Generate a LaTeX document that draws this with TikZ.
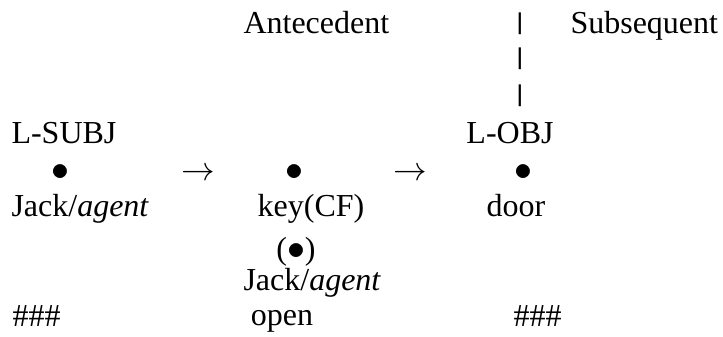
\documentclass[tikz,12pt,border=0pt]{standalone}
\usepackage{fontspec}
\setmainfont{Liberation Serif}

\tikzset{
  lefttext/.style={anchor=base west, inner sep=0pt},
  midtext/.style={anchor=base, inner sep=0pt}
}
\newcommand{\bigdot}{\scalebox{1.12}{$\bullet$}}
\newcommand{\bigarrow}{\scalebox{1.05}{$\rightarrow$}}
\newcommand{\barmark}{\scalebox{1}[0.75]{\textbf{|}}}

\begin{document}
\begin{tikzpicture}[x=0.375pt,y=-0.375pt]
		\useasboundingbox (0,0) rectangle (723,336);

		% Kopfzeile
		\node[lefttext] (ante) at (243,33) {Antecedent};
		\node[lefttext] (subs) at (570,33) {Subsequent};
		\node[midtext] (bara) at (520,29) {\barmark};
		\node[midtext] (barb) at (520,64) {\barmark};
		\node[midtext] (barc) at (520,101) {\barmark};

		% Rollen
		\node[lefttext] (lsubj) at (11,143) {L-SUBJ};
		\node[midtext] (lobj) at (510,143) {L-OBJ};

		% Punkte und Pfeile
		\node[midtext] (dota) at (60,180) {\bigdot};
		\node[midtext] (arra) at (198,180) {\bigarrow};
		\node[midtext] (dotb) at (294,180) {\bigdot};
		\node[midtext] (arrb) at (410,180) {\bigarrow};
		\node[midtext] (dotc) at (523,180) {\bigdot};

		% Beschriftungen
		\node[lefttext] (jacka) at (11,216) {Jack/\textit{agent}};
		\node[midtext] (key) at (311,216) {key(CF)};
		\node[midtext] (door) at (516,216) {door};
		\node[midtext] (dotd) at (296,259) {(\bigdot)};
		\node[lefttext] (jackb) at (243,290) {Jack/\textit{agent}};

		% Fusszeile
		\node[lefttext] (hasha) at (12,326) {\#\#\#};
		\node[midtext] (open) at (282,325) {open};
		\node[lefttext] (hashb) at (513,326) {\#\#\#};
	\end{tikzpicture}
\end{document}
